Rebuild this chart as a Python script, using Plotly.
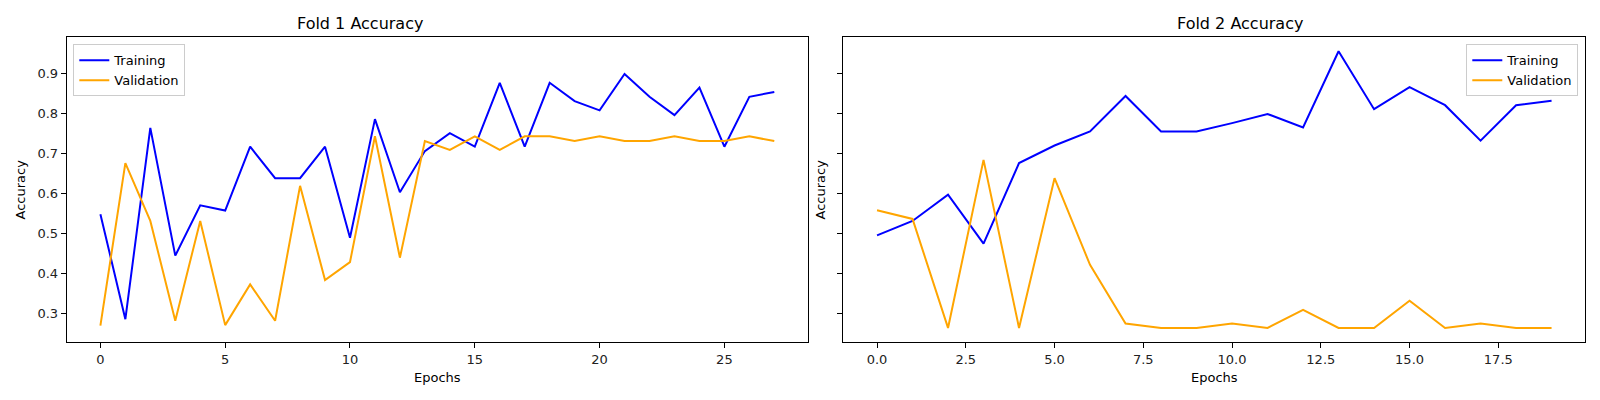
import plotly.graph_objects as go
from plotly.subplots import make_subplots

# fold 1: 28 epochs
fold1_epochs = list(range(28))
fold1_train = [0.548, 0.285, 0.764, 0.444, 0.570, 0.557, 0.717, 0.638, 0.638, 0.717,
               0.489, 0.786, 0.603, 0.706, 0.751, 0.717, 0.877, 0.717, 0.877, 0.831,
               0.808, 0.899, 0.842, 0.796, 0.865, 0.717, 0.842, 0.854]
fold1_val = [0.269, 0.676, 0.531, 0.281, 0.531, 0.270, 0.372, 0.281, 0.619, 0.383,
             0.428, 0.743, 0.439, 0.731, 0.709, 0.743, 0.709, 0.743, 0.743, 0.731,
             0.743, 0.731, 0.731, 0.743, 0.731, 0.731, 0.743, 0.731]

# fold 2: 20 epochs
fold2_epochs = list(range(20))
fold2_train = [0.495, 0.531, 0.597, 0.474, 0.676, 0.720, 0.755, 0.844, 0.755, 0.755,
               0.776, 0.799, 0.765, 0.956, 0.811, 0.866, 0.821, 0.732, 0.821, 0.832]
fold2_val = [0.558, 0.536, 0.263, 0.684, 0.263, 0.638, 0.421, 0.274, 0.263, 0.263,
             0.274, 0.263, 0.308, 0.263, 0.263, 0.331, 0.263, 0.274, 0.263, 0.263]

titles = ["Fold 1 Accuracy", "Fold 2 Accuracy"]
y_ticks = [0.3, 0.4, 0.5, 0.6, 0.7, 0.8, 0.9]

W, H = 1600, 400
font = "DejaVu Sans, Liberation Sans, sans-serif"

fig = make_subplots(rows=1, cols=2, shared_yaxes=True, subplot_titles=titles)

fig.add_trace(go.Scatter(x=fold1_epochs, y=fold1_train, mode="lines", name="Training",
                         line=dict(color="blue", width=2), legend="legend"), row=1, col=1)
fig.add_trace(go.Scatter(x=fold1_epochs, y=fold1_val, mode="lines", name="Validation",
                         line=dict(color="orange", width=2), legend="legend"), row=1, col=1)
fig.add_trace(go.Scatter(x=fold2_epochs, y=fold2_train, mode="lines", name="Training",
                         line=dict(color="blue", width=2), legend="legend2"), row=1, col=2)
fig.add_trace(go.Scatter(x=fold2_epochs, y=fold2_val, mode="lines", name="Validation",
                         line=dict(color="orange", width=2), legend="legend2"), row=1, col=2)

# plot areas in pixels (left, right, top, bottom)
left_box = (66.7, 808.0)
right_box = (843.3, 1585.3)
top_px, bottom_px = 37.3, 342.3
ydom = [1 - bottom_px / H, 1 - top_px / H]

axis_common = dict(showline=True, linecolor="black", linewidth=1, mirror=True,
                   ticks="outside", ticklen=5, tickcolor="black", showgrid=False,
                   zeroline=False, tickfont=dict(size=13, color="#222"))

fig.update_xaxes(**axis_common)
fig.update_yaxes(**axis_common)

fig.update_layout(
    xaxis=dict(domain=[left_box[0] / W, left_box[1] / W], range=[-1.35, 28.35],
               tickvals=[0, 5, 10, 15, 20, 25],
               title=dict(text="Epochs", font=dict(size=13), standoff=6)),
    xaxis2=dict(domain=[right_box[0] / W, right_box[1] / W], range=[-0.95, 19.95],
                tickvals=[0, 2.5, 5, 7.5, 10, 12.5, 15, 17.5], tickformat=".1f",
                title=dict(text="Epochs", font=dict(size=13), standoff=6)),
    yaxis=dict(domain=ydom, range=[0.227, 0.991], tickvals=y_ticks, tickformat=".1f",
               title=dict(text="Accuracy", font=dict(size=13), standoff=8)),
    yaxis2=dict(domain=ydom, range=[0.227, 0.991], tickvals=y_ticks, showticklabels=False,
                title=dict(text="Accuracy", font=dict(size=13), standoff=8)),
    legend=dict(x=73.3 / W, y=1 - 44.3 / H, xanchor="left", yanchor="top",
                bgcolor="rgba(255,255,255,0.8)", bordercolor="#cccccc", borderwidth=1,
                font=dict(size=13), tracegroupgap=0),
    legend2=dict(x=1578.3 / W, y=1 - 44.3 / H, xanchor="right", yanchor="top",
                 bgcolor="rgba(255,255,255,0.8)", bordercolor="#cccccc", borderwidth=1,
                 font=dict(size=13), tracegroupgap=0),
    width=W, height=H,
    margin=dict(l=0, r=0, t=0, b=0, autoexpand=False),
    paper_bgcolor="white", plot_bgcolor="white",
    font=dict(family=font, color="black"),
)

for ann in fig.layout.annotations:
    ann.font = dict(size=16, family=font, color="black")
    ann.y = 1 - 23.3 / H
    ann.yanchor = "middle"

# drop the default page margin so the figure sits at the window origin
fig.write_html("out.html", config={"displayModeBar": False},
               post_script="document.body.style.margin='0';")
